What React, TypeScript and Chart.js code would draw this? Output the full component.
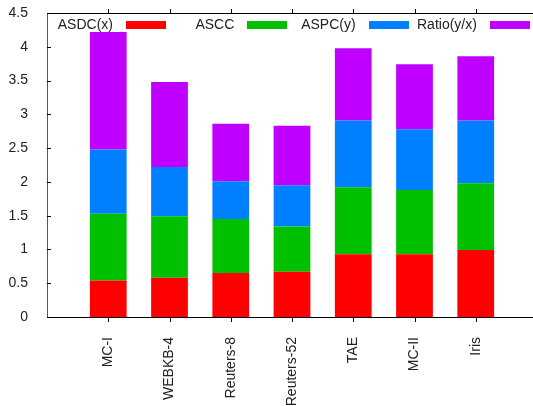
import React, { useEffect, useRef } from "react";
import { Chart, registerables } from "chart.js";

Chart.register(...registerables);

const categories = ["", "MC-I", "WEBKB-4", "Reuters-8", "Reuters-52", "TAE", "MC-II", "Iris", ""];
const asdc = [null, 0.54, 0.58, 0.65, 0.67, 0.93, 0.93, 0.99, null];
const ascc = [null, 0.99, 0.91, 0.8, 0.67, 0.99, 0.95, 0.99, null];
const aspc = [null, 0.95, 0.73, 0.56, 0.61, 0.99, 0.9, 0.93, null];
const ratio = [null, 1.74, 1.26, 0.85, 0.88, 1.07, 0.96, 0.95, null];
const seriesNames = ["ASDC(x)", "ASCC", "ASPC(y)", "Ratio(y/x)"];
const seriesColors = ["#ff0000", "#00c000", "#0080ff", "#c000ff"];
const yTicks = [0, 0.5, 1, 1.5, 2, 2.5, 3, 3.5, 4, 4.5];

const FONT = "'Liberation Sans', Arial, sans-serif";

const framePlugin = {
  id: "frame",
  afterDraw(chart: any) {
    const { ctx, chartArea, scales } = chart;
    const { left, right, top, bottom } = chartArea;
    ctx.save();
    ctx.lineWidth = 1;
    ctx.strokeStyle = "#000";
    ctx.beginPath();
    ctx.moveTo(left, top + 0.5);
    ctx.lineTo(right, top + 0.5);
    ctx.moveTo(left, bottom + 0.5);
    ctx.lineTo(right, bottom + 0.5);
    ctx.stroke();
    ctx.strokeStyle = "#555";
    ctx.beginPath();
    ctx.moveTo(left + 0.5, top);
    ctx.lineTo(left + 0.5, bottom + 1);
    ctx.stroke();
    ctx.strokeStyle = "#000";
    ctx.beginPath();
    yTicks.forEach((v) => {
      const y = Math.round(scales.y.getPixelForValue(v)) + 0.5;
      ctx.moveTo(left, y);
      ctx.lineTo(left + 4, y);
    });
    categories.forEach((c, i) => {
      if (!c) return;
      const x = Math.round(scales.x.getPixelForValue(i)) + 0.5;
      ctx.moveTo(x, bottom + 1);
      ctx.lineTo(x, bottom + 5);
      ctx.moveTo(x, top);
      ctx.lineTo(x, top - 4);
    });
    ctx.stroke();
    ctx.font = `14px ${FONT}`;
    ctx.textAlign = "right";
    ctx.textBaseline = "middle";
    seriesNames.forEach((name, i) => {
      const tx = left + 66 + i * 121.3;
      ctx.fillStyle = "#222";
      ctx.fillText(name, tx, 25);
      ctx.fillStyle = seriesColors[i];
      ctx.fillRect(Math.round(tx + 13), 21, 40, 8);
    });
    ctx.restore();
  },
};

export default function App() {
  const ref = useRef<HTMLCanvasElement>(null);
  useEffect(() => {
    if (!ref.current) return;
    const data = [asdc, ascc, aspc, ratio];
    const chart = new Chart(ref.current, {
      type: "bar",
      data: {
        labels: categories,
        datasets: seriesNames.map((n, i) => ({
          label: n,
          data: data[i] as any,
          backgroundColor: seriesColors[i],
          borderWidth: 0,
          barPercentage: 0.6,
          categoryPercentage: 1,
        })),
      },
      options: {
        animation: false,
        responsive: false,
        devicePixelRatio: 1,
        layout: { padding: { top: 13, left: 0, right: 0, bottom: 0 } },
        plugins: { legend: { display: false }, tooltip: { enabled: false } },
        scales: {
          x: {
            stacked: true,
            offset: false,
            grid: { display: false },
            border: { display: false },
            ticks: {
              autoSkip: false,
              maxRotation: 90,
              minRotation: 90,
              padding: 12,
              color: "#222",
              font: { family: FONT, size: 14 },
            },
            afterFit(scale: any) {
              scale.height = 89;
              scale.paddingLeft = 0;
              scale.paddingRight = 0;
            },
          },
          y: {
            stacked: true,
            min: 0,
            max: 4.5,
            grid: { display: false },
            border: { display: false },
            ticks: {
              stepSize: 0.5,
              padding: 11,
              color: "#222",
              font: { family: FONT, size: 14 },
              callback: (v: any) => String(v),
            },
            afterFit(scale: any) {
              scale.width = 47;
              scale.paddingTop = 0;
              scale.paddingBottom = 0;
            },
          },
        },
      },
      plugins: [framePlugin],
    });
    return () => chart.destroy();
  }, []);
  return (
    <div
      style={{
        position: "fixed",
        left: 0,
        top: 0,
        width: 533,
        height: 406,
        overflow: "hidden",
        background: "#fff",
      }}
    >
      <canvas ref={ref} width={537} height={406} style={{ display: "block", width: 537, height: 406 }} />
    </div>
  );
}
